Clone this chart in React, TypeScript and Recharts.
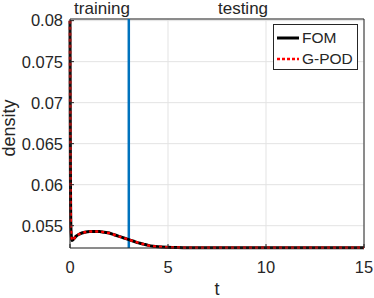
import React from 'react';
import { LineChart, Line, XAxis, YAxis, CartesianGrid, ReferenceLine } from 'recharts';

// time samples and density values
const T = [0, 0.02, 0.05, 0.1, 0.2, 0.3, 0.5, 0.75, 1, 1.25, 1.5, 1.75, 2, 2.25, 2.5, 2.75, 3, 3.25, 3.5, 3.75, 4, 4.25, 4.5, 5, 5.5, 6, 7, 8, 10, 12, 15];
const FOM = [0.08, 0.062, 0.0545, 0.0532, 0.0534, 0.0537, 0.054, 0.0542, 0.0543, 0.0543, 0.0543, 0.0542, 0.0541, 0.0539, 0.0537, 0.0535, 0.0533, 0.0531, 0.0529, 0.05275, 0.0526, 0.0525, 0.05243, 0.05236, 0.05233, 0.05232, 0.05231, 0.05231, 0.05231, 0.05231, 0.05231];
const GPOD = [0.08, 0.062, 0.0545, 0.0532, 0.0534, 0.0537, 0.054, 0.0542, 0.0543, 0.0543, 0.0543, 0.0542, 0.0541, 0.0539, 0.0537, 0.0535, 0.0533, 0.0531, 0.0529, 0.05275, 0.0526, 0.0525, 0.05243, 0.05236, 0.05233, 0.05232, 0.05231, 0.05231, 0.05231, 0.05231, 0.05231];

const X_TICKS = [0, 5, 10, 15];
const Y_TICKS = [0.055, 0.06, 0.065, 0.07, 0.075, 0.08];
const SPLIT_T = 3;

const data = T.map((t, i) => ({ t, fom: FOM[i], gpod: GPOD[i] }));

const FONT = '"Liberation Sans", Arial, sans-serif';
const AX = '#262626';

const App: React.FC = () => {
  return (
    <div style={{ position: 'absolute', left: 0, top: 0, width: 374, height: 298, background: '#fff', fontFamily: FONT }}>
      <LineChart width={374} height={298} data={data} margin={{ top: 19, right: 10, left: 0, bottom: 0 }}>
        <CartesianGrid stroke="#e3e3e3" strokeWidth={1} />
        <XAxis
          dataKey="t"
          type="number"
          domain={[0, 15]}
          ticks={X_TICKS}
          height={50}
          stroke={AX}
          tickSize={-4}
          tickMargin={17}
          tick={{ fill: AX, fontSize: 16.5, fontFamily: FONT }}
          label={({ viewBox }: any) => (
            <text x={viewBox.x + viewBox.width / 2} y={295} textAnchor="middle" fill={AX} fontSize={18} fontFamily={FONT}>t</text>
          )}
        />
        <YAxis
          type="number"
          domain={[0.05228, 0.0802]}
          ticks={Y_TICKS}
          width={70}
          stroke={AX}
          tickSize={-4}
          tickMargin={11}
          tick={{ fill: AX, fontSize: 16.5, fontFamily: FONT }}
          label={() => (
            <text x={15} y={128} transform="rotate(-90, 15, 128)" textAnchor="middle" fill={AX} fontSize={18} fontFamily={FONT}>density</text>
          )}
        />
        <ReferenceLine y={0.0802} stroke={AX} strokeWidth={1} />
        <ReferenceLine x={15} stroke={AX} strokeWidth={1} />
        <ReferenceLine x={SPLIT_T} stroke="#0072BD" strokeWidth={2.5} />
        <Line dataKey="fom" stroke="#000" strokeWidth={3} dot={false} type="monotone" isAnimationActive={false} />
        <Line dataKey="gpod" stroke="#ff0000" strokeWidth={2.5} strokeDasharray="3 3" dot={false} type="monotone" isAnimationActive={false} />
      </LineChart>

      <div style={{ position: 'absolute', left: 72, top: 0, width: 60, textAlign: 'center', fontSize: 17, lineHeight: '17px', color: AX }}>training</div>
      <div style={{ position: 'absolute', left: 213, top: 0, width: 60, textAlign: 'center', fontSize: 17, lineHeight: '17px', color: AX }}>testing</div>

      <div style={{ position: 'absolute', left: 273, top: 24, width: 83, height: 44, border: `1px solid ${AX}`, background: '#fff', fontSize: 15.5, color: AX }}>
        <div style={{ position: 'absolute', left: 3, top: 4, display: 'flex', alignItems: 'center' }}>
          <svg width={22} height={18}><line x1={0} y1={9} x2={22} y2={9} stroke="#000" strokeWidth={3} /></svg>
          <span style={{ marginLeft: 3 }}>FOM</span>
        </div>
        <div style={{ position: 'absolute', left: 3, top: 25, display: 'flex', alignItems: 'center' }}>
          <svg width={22} height={18}><line x1={0} y1={9} x2={22} y2={9} stroke="#ff0000" strokeWidth={2.5} strokeDasharray="3 2" /></svg>
          <span style={{ marginLeft: 3 }}>G-POD</span>
        </div>
      </div>
    </div>
  );
};

export default App;
